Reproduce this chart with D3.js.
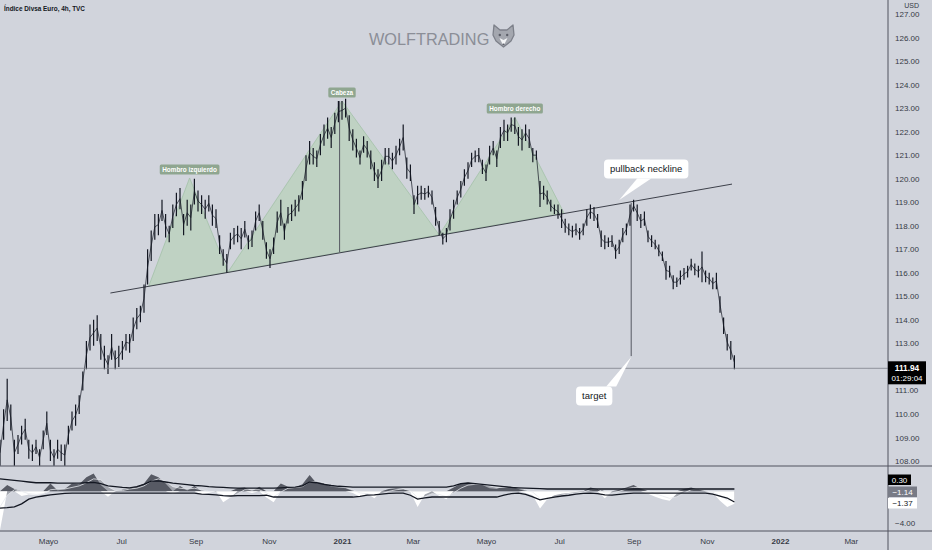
<!DOCTYPE html>
<html><head><meta charset="utf-8">
<script src="https://cdn.jsdelivr.net/npm/d3@7/dist/d3.min.js"></script>
<style>
html,body{margin:0;padding:0;background:#d1d4dc;}
svg{display:block;font-family:"Liberation Sans",Arial,sans-serif;}
</style></head><body>
<svg id="c" width="932" height="550"></svg>
<script>
// ---------------- DATA ----------------
const title = "Índice Divsa Euro, 4h, TVC";
const currency = "USD";
const watermark = "WOLFTRADING";
const barStart = "2020-03-22";
const barStepDays = 3;
const barLow = [107.8,108.9,109.7,109.3,107.8,108.3,108.7,108.9,108.1,108.0,
 108.3,107.8,108.5,109.1,108.0,107.8,108.1,108.0,107.8,108.7,
 109.3,109.5,110.0,111.0,111.9,112.7,112.9,113.1,112.3,111.9,
 111.7,112.3,111.9,112.0,112.3,112.7,112.6,113.1,113.6,113.9,
 114.3,115.5,
 116.5,117.4,117.6,118.2,117.5,117.3,117.9,118.4,118.7,117.6,
 118.0,117.8,118.9,118.6,118.5,118.3,118.6,118.0,117.9,116.8,
 116.3,116.0,
 117.0,117.2,117.3,117.0,117.5,117.0,117.1,117.8,118.2,117.4,
 116.6,116.2,116.8,117.7,118.0,117.4,118.1,118.2,118.4,118.6,
 119.1,119.9,120.6,120.6,120.5,121.0,121.4,121.7,121.3,121.9,
 122.4,
 122.5,122.6,121.6,121.2,120.9,120.6,121.1,120.9,120.4,119.9,
 119.6,119.9,120.6,120.6,120.4,120.6,121.0,121.2,120.0,119.9,
 118.5,118.9,119.1,119.1,119.2,118.9,118.0,117.6,117.2,
 117.3,117.8,118.3,118.9,119.2,119.7,120.0,120.5,120.7,120.7,
 120.2,119.9,120.6,121.0,120.5,121.3,121.6,121.6,122.0,121.9,
 121.4,121.2,121.6,121.3,120.7,120.8,118.8,119.1,118.9,118.6,
 118.5,118.3,117.9,
 117.7,117.6,117.5,117.6,117.4,117.6,118.0,118.3,118.2,117.9,
 117.1,117.0,117.1,117.1,116.6,116.8,117.3,117.6,118.0,118.6,
 118.2,117.9,118.0,117.3,117.1,117.0,116.7,116.5,115.7,115.8,
 115.3,115.4,115.5,115.7,115.8,116.1,115.9,115.8,115.6,115.6,
 115.5,115.3,115.3,114.3,113.4,112.7,112.3,111.9];
const barHigh = [108.9,110.2,111.5,110.4,108.9,109.1,109.5,109.8,108.9,108.7,
 108.9,108.5,109.3,110.1,108.9,108.5,108.9,108.7,108.7,109.5,
 110.1,110.4,110.8,111.8,113.1,113.8,114.0,114.2,113.4,112.9,
 112.5,113.4,112.7,112.9,113.1,113.4,113.4,114.1,114.5,114.6,
 115.5,117.0,
 117.8,118.5,118.5,119.1,118.5,118.0,118.9,119.4,119.6,118.5,
 119.1,118.9,120.0,119.5,119.3,119.1,119.3,118.9,118.7,117.6,
 117.0,116.8,
 117.7,117.9,118.0,117.9,118.2,117.6,117.8,118.6,118.9,118.2,
 117.3,117.0,117.5,118.6,119.1,118.1,118.8,118.9,119.1,119.3,
 119.9,121.0,121.6,121.3,121.2,121.9,122.3,122.6,122.2,122.8,
 123.3,
 123.3,123.4,122.7,122.1,121.7,121.2,121.8,121.6,121.2,120.7,
 120.4,120.8,121.3,121.3,121.1,121.4,121.7,122.3,120.9,120.6,
 119.3,119.7,119.7,119.6,119.7,119.5,118.8,118.2,117.7,
 117.9,118.7,119.1,119.5,119.9,120.4,120.7,121.1,121.2,121.3,
 120.8,120.6,121.4,121.6,121.2,122.2,122.5,122.3,122.6,122.6,
 122.2,122.1,122.3,122.1,121.3,121.2,119.9,119.7,119.5,119.1,
 118.9,118.9,118.7,
 118.3,118.1,118.0,118.1,117.9,118.1,118.7,118.9,118.8,118.5,
 117.8,117.6,117.5,117.6,117.2,117.4,117.9,118.1,118.9,119.1,
 118.9,118.5,118.6,117.8,117.6,117.4,117.2,116.9,116.5,116.3,
 115.9,115.8,116.1,116.2,116.3,116.6,116.4,116.3,116.9,116.1,
 116.0,115.8,116.0,115.0,114.1,113.4,113.1,112.5];
const lastPrice = 111.94;
const countdown = "01:29:04";
const priceTicks = [108,109,110,111,112,113,114,115,116,117,118,119,120,121,122,123,124,125,126,127];
const timeTicks = ["2020-05-01","2020-07-01","2020-09-01","2020-11-01","2021-01-01","2021-03-01",
  "2021-05-01","2021-07-01","2021-09-01","2021-11-01","2022-01-01","2022-03-01"];
const timeLabels = ["Mayo","Jul","Sep","Nov","2021","Mar","Mayo","Jul","Sep","Nov","2022","Mar"];

// oscillator pane
const oscStepDays = 6;
const osc = [-5.0,0.8,0.3,-0.6,-0.4,-0.5,-0.3,1.0,0.1,0.3,
 1.0,0.9,1.8,2.3,0.8,-0.7,0.0,0.2,0.4,0.6,
 1.0,2.2,1.8,1.0,-0.3,0.7,0.1,0.7,-0.4,-0.2,
 0.0,-1.4,-0.8,0.4,0.5,-0.2,0.6,-0.8,-1.4,1.0,
 0.6,0.5,0.9,2.1,1.0,1.0,0.6,0.5,0.4,-0.2,
 -0.7,-0.3,-0.9,0.0,0.3,0.4,0.3,-0.1,-2.0,-0.4,
 0.0,-0.6,-1.0,0.5,1.0,1.1,1.0,0.8,0.4,0.3,
 0.7,0.7,0.3,-0.2,-0.5,-2.2,-1.0,-0.5,-0.3,-0.2,
 -0.1,0.0,0.5,0.3,-0.9,0.0,0.2,0.5,0.8,0.3,
 -0.3,-0.7,-1.0,-1.2,-0.3,0.3,0.5,0.2,0.0,-0.2,
 -1.2,-2.0,-1.6];
const signal = [-2.0,-0.5,0.2,0.0,-0.3,-0.4,-0.3,0.2,0.3,0.3,
 0.5,0.7,1.1,1.6,1.5,0.6,0.1,0.1,0.3,0.4,
 0.7,1.3,1.6,1.3,0.6,0.4,0.3,0.4,0.2,0.0,
 -0.1,-0.6,-0.8,-0.3,0.2,0.2,0.2,-0.2,-0.7,-0.1,
 0.4,0.5,0.6,1.2,1.3,1.1,0.8,0.6,0.5,0.2,
 -0.2,-0.3,-0.5,-0.3,0.0,0.2,0.3,0.1,-0.8,-0.7,
 -0.3,-0.4,-0.7,-0.2,0.4,0.8,0.9,0.9,0.7,0.5,
 0.5,0.6,0.5,0.2,-0.1,-0.9,-1.0,-0.8,-0.5,-0.3,
 -0.2,-0.1,0.2,0.3,-0.2,-0.2,0.0,0.3,0.5,0.5,
 0.1,-0.3,-0.6,-0.9,-0.7,-0.2,0.2,0.3,0.1,-0.1,
 -0.6,-1.1,-1.14];
const upperBand = [1.6,1.5,1.4,1.3,1.2,1.1,1.1,1.1,1.05,1.05,
 1.05,1.05,1.1,1.15,1.0,0.7,0.6,0.5,0.45,0.6,
 0.9,1.3,1.35,1.2,1.05,0.95,0.85,0.75,0.7,0.6,
 0.55,0.5,0.45,0.42,0.42,0.42,0.42,0.42,0.42,0.45,
 0.5,0.55,0.7,1.2,1.1,0.9,0.75,0.65,0.6,0.55,
 0.55,0.55,0.55,0.55,0.55,0.55,0.55,0.55,0.55,0.55,
 0.55,0.55,0.55,0.7,1.0,1.07,1.0,0.9,0.8,0.7,
 0.6,0.5,0.45,0.42,0.38,0.35,0.3,0.3,0.3,0.3,
 0.3,0.3,0.3,0.3,0.3,0.3,0.3,0.3,0.3,0.3,
 0.3,0.3,0.3,0.3,0.3,0.3,0.3,0.3,0.3,0.3,
 0.3,0.3,0.3];
const lowerBand = [-2.15,-2.1,-2.0,-1.6,-1.0,-0.73,-0.6,-0.45,-0.35,-0.25,
 -0.22,-0.22,-0.22,-0.22,-0.22,-0.22,-0.22,-0.22,-0.22,-0.22,
 -0.22,-0.22,-0.22,-0.22,-0.22,-0.22,-0.22,-0.22,-0.35,-0.4,
 -0.45,-0.55,-0.6,-0.55,-0.55,-0.55,-0.55,-0.5,-0.73,-0.73,
 -0.73,-0.73,-0.73,-0.73,-0.73,-0.73,-0.73,-0.73,-0.73,-0.73,
 -0.65,-0.48,-0.45,-0.35,-0.25,-0.22,-0.22,-0.5,-1.0,-0.85,
 -0.73,-0.73,-0.73,-0.73,-0.73,-0.73,-0.73,-0.73,-0.73,-0.73,
 -0.5,-0.3,-0.22,-0.4,-0.7,-1.1,-0.9,-0.73,-0.6,-0.5,
 -0.35,-0.25,-0.22,-0.3,-0.45,-0.48,-0.4,-0.3,-0.22,-0.22,
 -0.22,-0.22,-0.22,-0.22,-0.22,-0.22,-0.22,-0.22,-0.22,-0.35,
 -0.6,-0.86,-1.37];
const oscLastValues = [0.30, -1.14, -1.37];
const oscTicks = [-4.00];

// pattern drawing (date, price)
const neckline = [["2020-06-22",115.14],["2021-11-22",119.77]];
const leftShoulder = [["2020-07-24",115.44],["2020-08-27",120.03],["2020-09-28",116.03]];
const head = [["2020-09-28",116.03],["2021-01-01",123.30],["2021-03-23",117.61]];
const rightShoulder = [["2021-03-23",117.61],["2021-05-25",122.62],["2021-07-05",118.54]];
const headLine = [["2020-12-30",123.30],["2020-12-30",116.88]];
const targetLine = [["2021-08-30",118.97],["2021-08-30",112.46]];
const patternLabels = [
  {text:"Hombro izquierdo", date:"2020-08-27", price:120.03},
  {text:"Cabeza", date:"2021-01-01", price:123.30},
  {text:"Hombro derecho", date:"2021-05-25", price:122.62}
];
const callouts = [
  {text:"pullback neckline", date:"2021-08-20", price:119.09, dx:27, dy:-31},
  {text:"target", date:"2021-08-30", price:112.42, dx:-37, dy:39}
];

// ---------------- DRAW ----------------
const W = 932, H = 550;
const axisX = 888, mainBottom = 466, paneBottom = 531;
const svg = d3.select("#c");
const P = d3.utcParse("%Y-%m-%d");
const x = d3.scaleUtc().domain([P("2021-01-01"), P("2022-01-01")]).range([342, 780]);
const yP = d3.scaleLinear().domain([108, 127]).range([461, 14]);
const yI = d3.scaleLinear().domain([-4, 0.3]).range([522.5, 489]);

svg.append("rect").attr("width", W).attr("height", H).attr("fill", "#d1d4dc");
const defs = svg.append("defs");
defs.append("clipPath").attr("id","cm").append("rect").attr("x",0).attr("y",0).attr("width",axisX).attr("height",mainBottom);
defs.append("clipPath").attr("id","ci").append("rect").attr("x",0).attr("y",mainBottom+0.5).attr("width",axisX).attr("height",paneBottom-mainBottom-1);

// watermark
const wm = svg.append("g");
wm.append("text").attr("x", 369).attr("y", 45).attr("font-size", 16.3).attr("fill", "#8b8e97")
  .attr("font-family", "'Liberation Sans',Arial,sans-serif").text(watermark);
const wolf = wm.append("g").attr("transform", "translate(493,25)");
wolf.append("path").attr("d","M1,0 L7,5 L14,5 L20,0 L21,10 L18,16 L10.5,22 L3,16 L0,10 Z")
  .attr("fill","#a4a7af").attr("stroke","#7d808a").attr("stroke-width",1.3).attr("stroke-linejoin","round");
wolf.append("path").attr("d","M6.5,13 L10.5,21 L14.5,13 L10.5,15 Z").attr("fill","#f4f5f7");
wolf.append("circle").attr("cx",6.8).attr("cy",10).attr("r",1.2).attr("fill","#5b5e68");
wolf.append("circle").attr("cx",14.2).attr("cy",10).attr("r",1.2).attr("fill","#5b5e68");
wolf.append("circle").attr("cx",10.5).attr("cy",19.5).attr("r",1.1).attr("fill","#5b5e68");

const main = svg.append("g").attr("clip-path", "url(#cm)");
const pt = d => [x(P(d[0])), yP(d[1])];

// triangles
[leftShoulder, head, rightShoulder].forEach(tri => {
  main.append("path").attr("d", d3.line()(tri.map(pt)) + "Z")
    .attr("fill", "#bcd2c0").attr("fill-opacity", 0.9)
    .attr("stroke", "#a3c2a8").attr("stroke-width", 0.8);
});

// neckline & vertical lines
main.append("path").attr("d", d3.line()(neckline.map(pt))).attr("stroke", "#3d404a").attr("stroke-width", 1).attr("fill","none");
[headLine, targetLine].forEach(l => main.append("path").attr("d", d3.line()(l.map(pt)))
  .attr("stroke", "#555862").attr("stroke-width", 1).attr("fill","none"));

// bars
const start = P(barStart);
const bars = barLow.map((lo, i) => ({d: d3.utcDay.offset(start, i * barStepDays), lo, hi: barHigh[i]}));
main.append("path").datum(bars)
  .attr("d", d3.line().x(d => x(d.d)).y(d => yP((d.lo + d.hi) / 2)))
  .attr("fill", "none").attr("stroke", "#131722").attr("stroke-width", 0.7);
main.append("g").selectAll("line").data(bars).join("line")
  .attr("x1", d => x(d.d)).attr("x2", d => x(d.d))
  .attr("y1", d => yP(d.lo)).attr("y2", d => yP(d.hi))
  .attr("stroke", "#131722").attr("stroke-width", 1.2);

// last price line
main.append("line").attr("x1", 0).attr("x2", axisX).attr("y1", yP(lastPrice)).attr("y2", yP(lastPrice))
  .attr("stroke", "#7f828c").attr("stroke-width", 0.8);

// pattern labels
patternLabels.forEach(l => {
  const cx = x(P(l.date)), cy = yP(l.price) - 8.5;
  const g = svg.append("g");
  const t = g.append("text").attr("x", cx).attr("y", cy + 2.3).attr("text-anchor", "middle")
    .attr("font-size", 6.4).attr("font-weight", "bold").attr("fill", "#ffffff").text(l.text);
  const w = t.node().getComputedTextLength() + 5;
  g.insert("rect", "text").attr("x", cx - w / 2).attr("y", cy - 5).attr("width", w).attr("height", 10)
    .attr("rx", 1.5).attr("fill", "#8fa690");
});

// callouts
callouts.forEach(c => {
  const tx = x(P(c.date)), ty = yP(c.price);
  const bx = tx + c.dx, by = ty + c.dy;
  const g = svg.append("g");
  const t = g.append("text").attr("x", bx).attr("y", by + 3.4).attr("text-anchor", "middle")
    .attr("font-size", 9.5).attr("fill", "#131722").text(c.text);
  const w = t.node().getComputedTextLength() + 12, h = 19;
  const up = c.dy < 0;
  const edgeY = up ? by + h / 2 : by - h / 2;
  const b1 = up ? bx - 9 : bx + 12, b2 = up ? bx + 5 : bx + 22;
  g.insert("path", "text").attr("d", `M${b1},${edgeY} L${tx},${ty} L${b2},${edgeY} Z`).attr("fill", "#ffffff");
  g.insert("rect", "text").attr("x", bx - w / 2).attr("y", by - h / 2).attr("width", w).attr("height", h)
    .attr("rx", 4).attr("fill", "#ffffff");
});

// indicator pane
const ind = svg.append("g").attr("clip-path", "url(#ci)");
const istart = P(barStart);
const ix = i => x(d3.utcDay.offset(istart, i * oscStepDays));
const idx = d3.range(osc.length);
ind.append("path").datum(idx).attr("d", d3.area().x(ix).y0(yI(0)).y1(i => yI(signal[i])))
  .attr("fill", "#a2a5ad");
ind.append("path").datum(idx).attr("d", d3.area().x(ix).y0(yI(0)).y1(i => yI(Math.max(0, osc[i]))))
  .attr("fill", "#575a64");
ind.append("path").datum(idx).attr("d", d3.area().x(ix).y0(yI(0)).y1(i => yI(Math.min(0, osc[i]))))
  .attr("fill", "#ffffff");
ind.append("path").datum(idx).attr("d", d3.line().x(ix).y(i => yI(signal[i])))
  .attr("fill", "none").attr("stroke", "#e6e8ee").attr("stroke-width", 0.8);
ind.append("path").datum(idx).attr("d", d3.line().x(ix).y(i => yI(upperBand[i])))
  .attr("fill", "none").attr("stroke", "#131722").attr("stroke-width", 1.3);
ind.append("path").datum(idx).attr("d", d3.line().x(ix).y(i => yI(lowerBand[i])))
  .attr("fill", "none").attr("stroke", "#131722").attr("stroke-width", 1.3);

// frame lines
svg.append("line").attr("x1", 0).attr("x2", W).attr("y1", mainBottom).attr("y2", mainBottom).attr("stroke", "#50535e").attr("stroke-width", 1);
svg.append("line").attr("x1", 0).attr("x2", W).attr("y1", paneBottom).attr("y2", paneBottom).attr("stroke", "#50535e").attr("stroke-width", 1);
svg.append("line").attr("x1", axisX).attr("x2", axisX).attr("y1", 0).attr("y2", H).attr("stroke", "#50535e").attr("stroke-width", 1);

// price axis
const pa = svg.append("g").attr("transform", `translate(${axisX},0)`)
  .call(d3.axisRight(yP).tickValues(priceTicks).tickFormat(d3.format(".2f")).tickSize(0).tickPadding(7));
pa.select(".domain").remove();
pa.selectAll("text").attr("font-size", 8).attr("fill", "#363a45").attr("font-family", "'Liberation Sans',Arial,sans-serif");
svg.append("text").attr("x", 919).attr("y", 8).attr("text-anchor", "end").attr("font-size", 7)
  .attr("fill", "#363a45").text(currency);

// last price box
svg.append("rect").attr("x", axisX).attr("y", yP(lastPrice) - 7).attr("width", 38).attr("height", 23).attr("fill", "#000");
svg.append("text").attr("x", 907).attr("y", yP(lastPrice) + 3).attr("text-anchor", "middle").attr("font-size", 8.3)
  .attr("font-weight", "bold").attr("fill", "#fff").text(d3.format(".2f")(lastPrice));
svg.append("text").attr("x", 907).attr("y", yP(lastPrice) + 13).attr("text-anchor", "middle").attr("font-size", 8)
  .attr("fill", "#fff").text(countdown);

// indicator axis
const ia = svg.append("g").attr("transform", `translate(${axisX},0)`)
  .call(d3.axisRight(yI).tickValues(oscTicks).tickFormat(d3.format(".2f")).tickSize(0).tickPadding(7));
ia.select(".domain").remove();
ia.selectAll("text").attr("font-size", 8).attr("fill", "#363a45").text(d => d3.format(".2f")(d).replace("-", "\u2212"));

const boxStyles = [{fill:"#000", tc:"#fff", w:23}, {fill:"#787b86", tc:"#fff", w:29}, {fill:"#fff", tc:"#131722", w:29}];
const boxY = [yI(oscLastValues[0]) - 9.5, yI(oscLastValues[0]) + 2.5, yI(oscLastValues[0]) + 14];
oscLastValues.forEach((v, i) => {
  const s = boxStyles[i];
  svg.append("rect").attr("x", axisX).attr("y", boxY[i] - 5).attr("width", s.w).attr("height", 10.5).attr("fill", s.fill);
  svg.append("text").attr("x", axisX + s.w / 2).attr("y", boxY[i] + 3).attr("text-anchor", "middle").attr("font-size", 8)
    .attr("fill", s.tc).text(d3.format(".2f")(v).replace("-", "\u2212"));
});

// time axis
const ta = svg.append("g").attr("transform", `translate(0,${paneBottom})`)
  .call(d3.axisBottom(x).tickValues(timeTicks.map(P)).tickFormat((d, i) => timeLabels[i]).tickSize(0).tickPadding(7));
ta.select(".domain").remove();
ta.selectAll("text").attr("font-size", 8).attr("fill", "#363a45")
  .attr("font-weight", (d, i) => /^\d{4}$/.test(timeLabels[i]) ? "bold" : "normal")
  .attr("font-family", "'Liberation Sans',Arial,sans-serif");

// title
svg.append("text").attr("x", 4).attr("y", 11).attr("font-size", 6.4).attr("font-weight", "bold")
  .attr("fill", "#131722").text(title);
</script>
</body></html>
